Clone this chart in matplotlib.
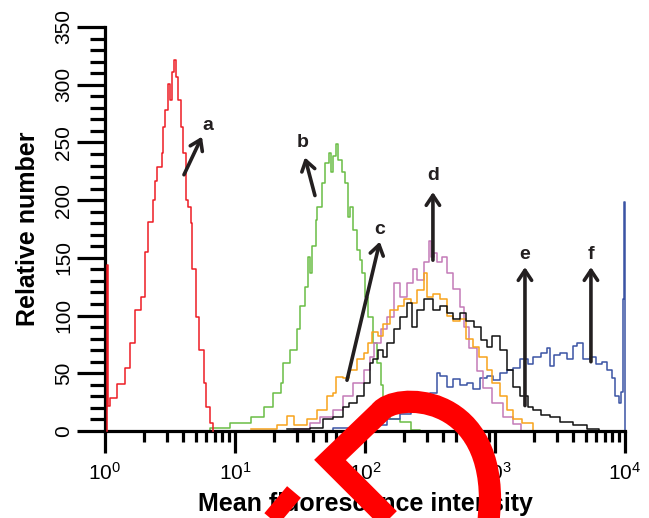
import numpy as np
import matplotlib
matplotlib.use("Agg")
import matplotlib.pyplot as plt
from matplotlib.ticker import MultipleLocator, LogLocator, NullFormatter
from matplotlib.path import Path
from matplotlib.patches import PathPatch

plt.rcParams['font.family'] = ['Liberation Sans', 'DejaVu Sans']

# histogram channels, stored as log10(intensity) -> count
a_log = [0.012, 0.012, 0.02, 0.04, 0.09, 0.15, 0.19, 0.23, 0.28, 0.31, 0.33, 0.37, 0.385, 0.40, 0.438,
         0.446, 0.46, 0.485, 0.50, 0.515, 0.53, 0.546, 0.56, 0.585, 0.60, 0.62, 0.638, 0.66, 0.67,
         0.70, 0.72, 0.76, 0.78, 0.808, 0.83]
a_cnt = [0, 144, 22, 29, 41, 55, 76, 105, 116, 155, 181, 200, 217, 229, 241,
         263, 278, 301, 287, 311, 321, 307, 287, 263, 241, 200, 194, 180, 140,
         99, 70, 42, 21, 7, 0]

b_log = [0.70, 0.81, 0.96, 1.12, 1.22, 1.29, 1.35, 1.37, 1.42, 1.48, 1.50, 1.54, 1.56, 1.58, 1.59,
         1.62, 1.63, 1.67, 1.69, 1.72, 1.74, 1.75, 1.78, 1.79, 1.82, 1.845, 1.87, 1.885, 1.91,
         1.94, 1.96, 1.98, 2.00, 2.02, 2.06, 2.09, 2.12, 2.14, 2.19, 2.27, 2.35, 2.42]
b_cnt = [0, 3, 7, 12, 21, 33, 42, 59, 70, 88, 108, 125, 151, 137, 160,
         183, 194, 215, 232, 241, 224, 238, 249, 235, 224, 215, 185, 194, 174,
         157, 148, 137, 116, 99, 76, 59, 40, 25, 10, 8, 1, 0]

c_log = [1.12, 1.32, 1.40, 1.45, 1.55, 1.63, 1.71, 1.75, 1.78, 1.83, 1.88, 1.94, 1.99, 2.02,
         2.05, 2.10, 2.14, 2.19, 2.25, 2.30, 2.35, 2.40, 2.45, 2.48, 2.52, 2.58, 2.63, 2.68,
         2.73, 2.78, 2.83, 2.88, 2.94, 2.98, 3.04, 3.09, 3.14, 3.21, 3.29]
c_cnt = [2, 5, 13, 5, 10, 18, 30, 33, 47, 46, 53, 62, 68, 76,
         86, 82, 93, 105, 108, 114, 111, 122, 137, 116, 119, 114, 100, 95,
         97, 80, 73, 64, 53, 42, 30, 18, 10, 7, 0]

d_log = [1.45, 1.58, 1.65, 1.75, 1.83, 1.91, 1.99, 2.04, 2.07, 2.12, 2.17, 2.22, 2.27, 2.32,
         2.37, 2.40, 2.45, 2.49, 2.51, 2.53, 2.55, 2.59, 2.63, 2.68, 2.73, 2.76, 2.80, 2.86,
         2.91, 2.98, 3.06, 3.14, 3.20]
d_cnt = [2, 7, 12, 18, 30, 42, 53, 64, 76, 88, 99, 128, 116, 128,
         140, 131, 146, 165, 151, 154, 146, 151, 137, 123, 107, 90, 72, 52,
         37, 24, 12, 6, 0]

e_log = [1.40, 1.58, 1.68, 1.75, 1.83, 1.88, 1.94, 1.99, 2.04, 2.06, 2.10, 2.14, 2.17, 2.22,
         2.27, 2.32, 2.36, 2.40, 2.45, 2.52, 2.58, 2.63, 2.68, 2.73, 2.78, 2.84, 2.89, 2.94,
         2.98, 3.04, 3.09, 3.14, 3.19, 3.25, 3.29, 3.35, 3.42, 3.50, 3.60, 3.71, 3.80]
e_cnt = [2, 3, 10, 12, 21, 24, 30, 42, 59, 62, 70, 64, 76, 88,
         99, 111, 90, 105, 114, 105, 108, 102, 97, 102, 95, 90, 79, 73,
         82, 70, 53, 38, 30, 21, 18, 14, 12, 8, 5, 2, 0]

f_log = [1.65, 1.75, 1.96, 2.17, 2.27, 2.35, 2.42, 2.50, 2.55, 2.58, 2.63, 2.68, 2.73, 2.785,
         2.83, 2.885, 2.94, 2.985, 3.04, 3.09, 3.14, 3.19, 3.25, 3.29, 3.35, 3.40, 3.42, 3.45,
         3.50, 3.55, 3.60, 3.63, 3.68, 3.73, 3.78, 3.82, 3.86, 3.90, 3.92, 3.95, 3.97, 3.985,
         3.995, 4.0]
f_cnt = [0, 3, 5, 10, 15, 22, 28, 33, 50, 48, 38, 45, 40, 42,
         36, 46, 48, 44, 50, 53, 55, 62, 58, 64, 68, 72, 56, 66,
         68, 62, 74, 76, 62, 64, 58, 60, 53, 46, 30, 24, 34, 114,
         198, 0]

series = [
    ('b', b_log, b_cnt, '#6abd45'),
    ('a', a_log, a_cnt, '#ee1c25'),
    ('f', f_log, f_cnt, '#3b54a4'),
    ('d', d_log, d_cnt, '#c47ab8'),
    ('c', c_log, c_cnt, '#f8a31b'),
    ('e', e_log, e_cnt, '#111111'),
]

# arrow annotations: label, tail (x, y), head (x, y), label position
arrow_labels = ['a', 'b', 'c', 'd', 'e', 'f']
arrow_tail_x = [4.05, 41.2, 72.7, 333, 1700, 5470]
arrow_tail_y = [222, 204, 44, 148, 22, 60]
arrow_head_x = [5.57, 34.5, 130, 333, 1700, 5470]
arrow_head_y = [255, 237, 164, 207, 142, 142]
label_x = [6.2, 33.3, 130, 333, 1700, 5470]
label_y = [265, 250, 175, 221, 153, 153]

fig = plt.figure(figsize=(6.49, 5.18), dpi=100)
ax = fig.add_axes([105 / 649, 1 - 431 / 518, 520 / 649, 404 / 518])

for name, lg, cnt, col in series:
    z = 3 if name == 'a' else 2
    ax.plot(10 ** np.array(lg), cnt, drawstyle='steps-post', color=col, lw=1.1,
            clip_on=False, zorder=z)

for i, lab in enumerate(arrow_labels):
    ax.annotate('', xy=(arrow_head_x[i], arrow_head_y[i]),
                xytext=(arrow_tail_x[i], arrow_tail_y[i]),
                arrowprops=dict(arrowstyle='->,head_length=0.45,head_width=0.3',
                                lw=2.6, color='#231f20', mutation_scale=16,
                                shrinkA=0, shrinkB=0))
    ax.text(label_x[i], label_y[i], lab, fontsize=14, fontweight='bold',
            color='#231f20', ha='center', va='center')

ax.set_xscale('log')
ax.set_xlim(1, 1e4)
ax.set_ylim(0, 350)
ax.xaxis.set_major_locator(LogLocator(base=10, numticks=10))
ax.xaxis.set_minor_locator(LogLocator(base=10, subs=np.arange(2, 10), numticks=20))
ax.xaxis.set_minor_formatter(NullFormatter())
ax.yaxis.set_major_locator(MultipleLocator(50))
ax.yaxis.set_minor_locator(MultipleLocator(10))

for s in ['top', 'right']:
    ax.spines[s].set_visible(False)
for s in ['left', 'bottom']:
    ax.spines[s].set_linewidth(2.3)

ax.tick_params(axis='y', which='major', direction='out', length=20, width=2.3, pad=3, labelsize=15)
ax.tick_params(axis='y', which='minor', direction='out', length=11, width=2.3)
ax.tick_params(axis='x', which='major', direction='out', length=16, width=2.3, pad=6, labelsize=15)
ax.tick_params(axis='x', which='minor', direction='out', length=8, width=2.3)
for t in ax.get_yticklabels():
    t.set_rotation(90)
    t.set_va('center')

ax.set_ylabel('Relative number', fontsize=18, fontweight='bold', labelpad=10)
ax.set_xlabel('Mean fluorescence intensity', fontsize=18, fontweight='bold', labelpad=6)

# red stamp overlay across the bottom of the figure (pixel coords, y from top)
def px(x, y):
    return (x / 649, 1 - y / 518)

verts = [px(400, 530), px(330, 460), px(380, 412),
         px(395, 392), px(490, 392), px(490, 500), px(488, 530)]
codes = [Path.MOVETO, Path.LINETO, Path.LINETO,
         Path.CURVE4, Path.CURVE4, Path.CURVE4, Path.LINETO]
stamp = PathPatch(Path(verts, codes), transform=fig.transFigure, fill=False,
                  edgecolor='#ff0000', lw=16, capstyle='butt', joinstyle='miter', zorder=10)
fig.add_artist(stamp)
bar = PathPatch(Path([px(294, 492), px(262, 530)], [Path.MOVETO, Path.LINETO]),
                transform=fig.transFigure, fill=False, edgecolor='#ff0000', lw=13,
                capstyle='butt', zorder=10)
fig.add_artist(bar)

fig.savefig('out.png', dpi=100)
